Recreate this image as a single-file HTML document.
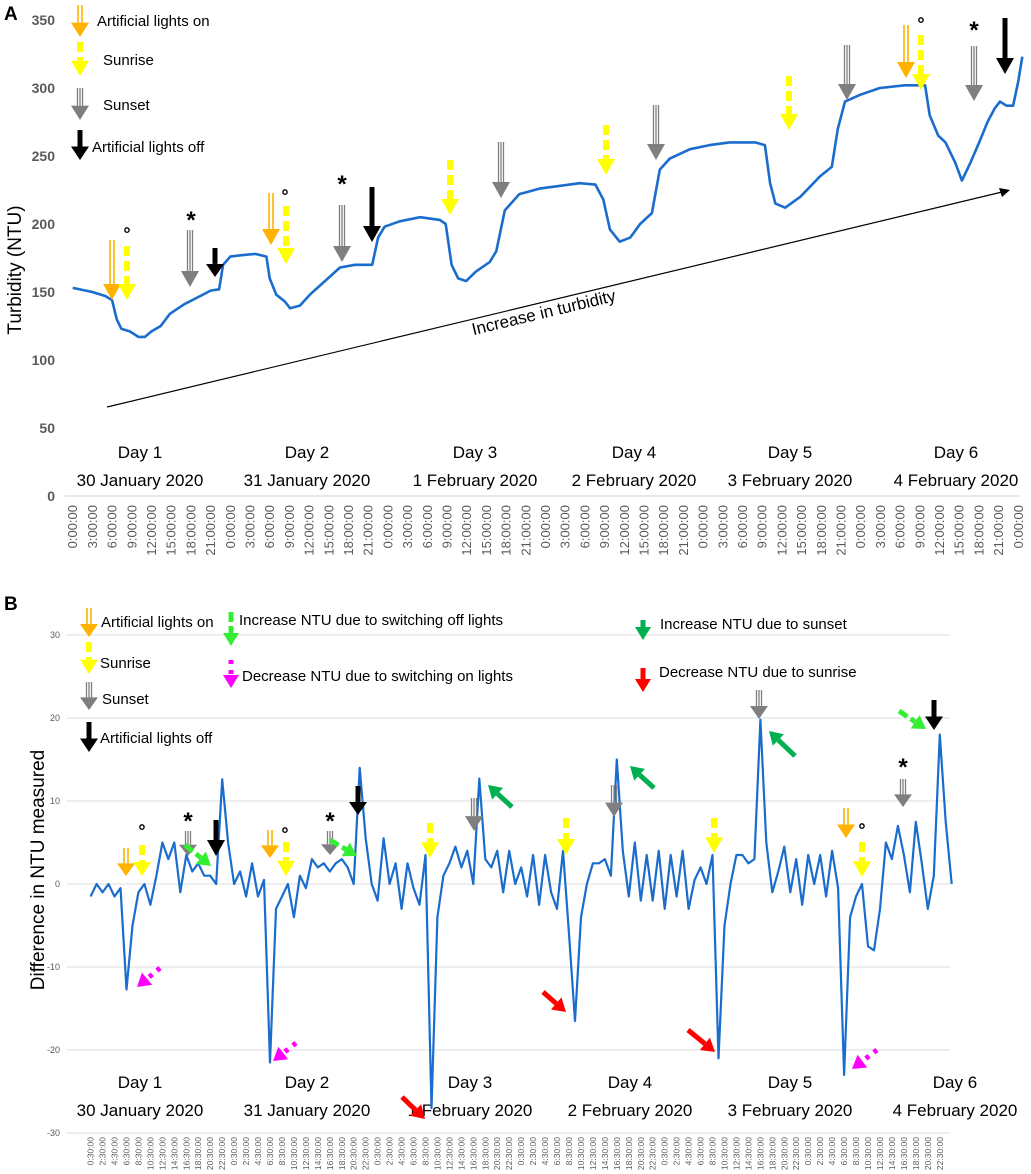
<!DOCTYPE html>
<html><head><meta charset="utf-8"><style>
html,body{margin:0;padding:0;background:#fff;}
svg{display:block;font-family:"Liberation Sans",sans-serif;}
</style></head><body>
<svg id="fig" width="1031" height="1174" viewBox="0 0 1031 1174">
<g id="gA"></g>
<g id="gB"></g>
</svg>
<script>
// ---------- Panel A data ----------
const hoursA = [0,3,5,6,6.7,7.4,8.7,10,11,12,13.4,14.8,17,19.4,21,22.3,22.9,24,25.5,27.8,29.5,30,31,32.3,33.1,34.6,36.1,38.4,40.7,43,45.6,46.5,47.5,49.8,52.9,55.9,56.8,57.7,58.7,59.9,61.4,63.5,64.5,65.8,68,71.1,74.1,77.2,79.6,80.8,81.8,83.3,84.9,86.4,88.2,89.4,90.9,94,97,100,103.9,105.4,106.2,107,108.5,110.8,113.8,115.6,116.5,117.6,119.9,122.9,126.7,129,129.8,130.5,131.8,132.9,134.4,135.4,136.7,138.2,139.3,140.4,141.2,142.2,143.2,144,144.6];
const turbA = [153,150,147,144,130,123,121,117,117,121,125,134,141,147,151,152,170,176,177,178,176,160,148,143,138,140,148,158,168,170,170,190,198,202,205,203,200,170,160,158,165,172,180,210,222,226,228,230,229,218,196,187,190,200,208,240,248,255,258,260,260,258,230,215,212,220,235,242,270,290,295,300,302,302,302,280,265,260,245,232,245,262,275,285,290,287,287,305,323,323];
const yTicksA = [0,50,100,150,200,250,300,350];
const dayNamesA = ["Day 1","Day 2","Day 3","Day 4","Day 5","Day 6"];
const dayDatesA = ["30 January 2020","31 January 2020","1 February 2020","2 February 2020","3 February 2020","4 February 2020"];
const dayXA = [140,307,475,634,790,956];
const xLabelsA = ["0:00:00","3:00:00","6:00:00","9:00:00","12:00:00","15:00:00","18:00:00","21:00:00"];

// ---------- Panel B data ----------
const diffB = [
-1.5,0,-1,0,-1.5,-0.5,-12.7,-5,-1,0,-2.5,1,5,3,5,-1,3.5,1.5,2.5,1,1,0,12.6,5,
0,1.5,-1.5,2.5,-1.5,0.5,-21.5,-3,-1.5,0,-4,1,-0.5,3,2,2.5,1.5,2.5,3,2,0,14,5.5,0,
-2,5.5,0,2.5,-3,2.5,-0.5,-2.5,3.5,-27,-4,1,2.5,4.5,2,4,0,12.7,3,2,4,-1,4,0,
2,-1.5,3.5,-2.5,3.5,-1,-3,4,-6,-16.5,-4,0,2.5,2.5,3,1,15,4,-1.5,5,-2,3.5,-2,4,
-3,3.5,-1.5,4,-3,0.5,2,0,3.5,-21,-5,0,3.5,3.5,2.5,3,19.8,5,-1,1.5,4.5,-1,3,-2.5,
3.5,0,3.5,-1.5,4,-0.5,-23,-4,-1.5,0,-7.5,-8,-3,5,3,7,3.5,-1,7.5,2.5,-3,1,18,7.5,0];
const yTicksB = [-30,-20,-10,0,10,20,30];
const dayXB = [140,307,470,630,790,955];
const xLabelsB = ["0:30:00","2:30:00","4:30:00","6:30:00","8:30:00","10:30:00","12:30:00","14:30:00","16:30:00","18:30:00","20:30:00","22:30:00"];

const NS="http://www.w3.org/2000/svg";
function mk(tag, attrs, parent){const e=document.createElementNS(NS,tag);for(const k in attrs)e.setAttribute(k,attrs[k]);parent.appendChild(e);return e;}
function txt(s,attrs,parent){const e=mk('text',attrs,parent);e.textContent=s;return e;}

const gA=document.getElementById('gA'), gB=document.getElementById('gB');
const xA=h=>72.7+h*6.567, yA=v=>496-v*1.36;
const xB=k=>90.6+k*5.98, yB=v=>884-v*8.3;

function vArrow(type,x,y1,y2,parent){
  const g=mk('g',{},parent);
  
  
  const col={on:'#ffb300',rise:'#ffff00',set:'#7f7f7f',off:'#000'}[type];
  const hh=Math.min(16,(y2-y1)*0.45), hw=9, sy=y2-hh;
  if(type==='on'){mk('line',{x1:x-2,y1:y1,x2:x-2,y2:sy,stroke:col,'stroke-width':1.6},g);mk('line',{x1:x+2,y1:y1,x2:x+2,y2:sy,stroke:col,'stroke-width':1.6},g);}
  else if(type==='set'){[-2.5,0,2.5].forEach(d=>mk('line',{x1:x+d,y1:y1,x2:x+d,y2:sy,stroke:col,'stroke-width':1.3},g));}
  else if(type==='rise'){mk('line',{x1:x,y1:y1,x2:x,y2:sy,stroke:col,'stroke-width':6,'stroke-dasharray':'10,5'},g);}
  else {mk('line',{x1:x,y1:y1,x2:x,y2:sy,stroke:col,'stroke-width':5},g);}
  mk('polygon',{points:`${x-hw},${sy} ${x+hw},${sy} ${x},${y2}`,fill:col},g);
  return g;
}
function dArrow(col,dash,x1,y1,x2,y2,parent,name){
  const g=mk('g',{},parent);
  
  
  const dx=x2-x1,dy=y2-y1,L=Math.hypot(dx,dy),ux=dx/L,uy=dy/L,hl=13,hw=8;
  const bx=x2-ux*hl,by=y2-uy*hl;
  const a={x1:x1,y1:y1,x2:bx,y2:by,stroke:col,'stroke-width':5};
  if(dash)a['stroke-dasharray']=dash;
  mk('line',a,g);
  mk('polygon',{points:`${bx-uy*hw},${by+ux*hw} ${bx+uy*hw},${by-ux*hw} ${x2},${y2}`,fill:col},g);
}
function mark(s,x,y,parent,name){const t=txt(s,{x:x,y:y,'font-size':s==='*'?24:18,'font-weight':'bold','text-anchor':'middle'},parent);}

// ================= PANEL A =================
let t=txt('A',{x:4,y:20,'font-size':19,'font-weight':'bold'},gA);

mk('line',{x1:65,y1:496,x2:1020,y2:496,stroke:'#d9d9d9','stroke-width':1.2},gA);
yTicksA.forEach(v=>{const e=txt(String(v),{x:55,y:yA(v)+5,'font-size':14,'font-weight':'bold',fill:'#595959','text-anchor':'end'},gA);
});
t=txt('Turbidity (NTU)',{transform:'translate(21,270) rotate(-90)','font-size':19,'text-anchor':'middle'},gA);

for(let i=0;i<=48;i++){const s=xLabelsA[i%8];const e=txt(s,{transform:`translate(${xA(i*3)+4.5},505) rotate(-90)`,'font-size':13,fill:'#595959','text-anchor':'end'},gA);
}
dayNamesA.forEach((d,i)=>{let e=txt(d,{x:dayXA[i],y:458,'font-size':17,'text-anchor':'middle'},gA);
e=txt(dayDatesA[i],{x:dayXA[i],y:486,'font-size':17,'text-anchor':'middle'},gA);});
let tr=mk('g',{},gA);
mk('line',{x1:107,y1:407,x2:1002,y2:192,stroke:'#000','stroke-width':1.2},tr);
mk('polygon',{points:'1010,190 999,188 1002,197',fill:'#000'},tr);
t=txt('Increase in turbidity',{transform:'translate(545,318) rotate(-13.5)','font-size':17,'text-anchor':'middle'},gA);

let dA=hoursA.map((h,i)=>(i?'L':'M')+xA(h).toFixed(1)+','+yA(turbA[i]).toFixed(1)).join(' ');
let pA=mk('path',{d:dA,fill:'none',stroke:'#1a6dcc','stroke-width':2.6,'stroke-linejoin':'round'},gA);

vArrow('on',80,5,37,gA);vArrow('rise',80,42,76,gA);vArrow('set',80,88,120,gA);vArrow('off',80,130,160,gA);
[['Artificial lights on',97,26],['Sunrise',103,65],['Sunset',103,110],['Artificial lights off',92,152]].forEach(a=>{const e=txt(a[0],{x:a[1],y:a[2],'font-size':15},gA);});
vArrow('on',112,240,300,gA);mark('°',127,240,gA,'degree-mark');vArrow('rise',127,246,300,gA);mark('*',191,228,gA,'star-mark');vArrow('set',190,230,287,gA);vArrow('off',215,248,277,gA);
vArrow('on',271,193,245,gA);mark('°',285,202,gA,'degree-mark');vArrow('rise',286,206,264,gA);mark('*',342,192,gA,'star-mark');vArrow('set',342,205,262,gA);vArrow('off',372,187,242,gA);
vArrow('rise',450,160,215,gA);vArrow('set',501,142,198,gA);
vArrow('rise',606,125,175,gA);vArrow('set',656,105,160,gA);
vArrow('rise',789,76,130,gA);vArrow('set',847,45,100,gA);
vArrow('on',906,25,78,gA);mark('°',921,30,gA,'degree-mark');vArrow('rise',921,35,90,gA);mark('*',974,38,gA,'star-mark');vArrow('set',974,46,101,gA);vArrow('off',1005,18,74,gA);

// ================= PANEL B =================
t=txt('B',{x:4,y:610,'font-size':19,'font-weight':'bold'},gB);

yTicksB.forEach(v=>{const l=mk('line',{x1:67,y1:yB(v),x2:950,y2:yB(v),stroke:'#e3e3e3','stroke-width':1.2},gB);

const e=txt(String(v),{x:60,y:yB(v)+3,'font-size':9,fill:'#595959','text-anchor':'end'},gB);
});
t=txt('Difference in NTU measured',{transform:'translate(44,870) rotate(-90)','font-size':19,'text-anchor':'middle'},gB);

for(let i=0;i<72;i++){const e=txt(xLabelsB[i%12],{transform:`translate(${xB(i*2)+3},1137) rotate(-90)`,'font-size':8.5,fill:'#595959','text-anchor':'end'},gB);
}
dayNamesA.forEach((d,i)=>{let e=txt(d,{x:dayXB[i],y:1088,'font-size':17,'text-anchor':'middle'},gB);
e=txt(dayDatesA[i],{x:dayXB[i],y:1116,'font-size':17,'text-anchor':'middle'},gB);});
let dB=diffB.map((v,k)=>(k?'L':'M')+xB(k).toFixed(1)+','+yB(v).toFixed(1)).join(' ');
let pB=mk('path',{d:dB,fill:'none',stroke:'#1a6dcc','stroke-width':2.2,'stroke-linejoin':'round'},gB);

vArrow('on',89,608,637,gB);vArrow('rise',89,642,674,gB);vArrow('set',89,682,710,gB);vArrow('off',89,722,752,gB);
dArrow('#33ee33','10,4',231,612,231,646,gB,'legend-lightgreen-arrow');
dArrow('#ff00ff','4,6',231,660,231,688,gB,'legend-magenta-arrow');
dArrow('#00b050',null,643,620,643,640,gB,'legend-green-arrow');
dArrow('#ff0000',null,643,668,643,692,gB,'legend-red-arrow');
[['Artificial lights on',101,627],['Sunrise',100,668],['Sunset',102,704],['Artificial lights off',100,743],
['Increase NTU due to switching off lights',239,625],['Decrease NTU due to switching on lights',242,681],
['Increase NTU due to sunset',660,629],['Decrease NTU due to sunrise',659,677]].forEach(a=>{const e=txt(a[0],{x:a[1],y:a[2],'font-size':15},gB);});
vArrow('on',126,848,876,gB);mark('°',142,837,gB,'degree-mark');vArrow('rise',142,845,876,gB);mark('*',188,829,gB,'star-mark');vArrow('set',188,831,856,gB);vArrow('off',216,820,856,gB);
vArrow('on',270,830,858,gB);mark('°',285,840,gB,'degree-mark');vArrow('rise',286,842,876,gB);mark('*',330,829,gB,'star-mark');vArrow('set',330,831,855,gB);vArrow('off',358,786,815,gB);
vArrow('rise',430,823,858,gB);vArrow('set',474,798,831,gB);
vArrow('rise',566,818,855,gB);vArrow('set',614,785,817,gB);
vArrow('rise',714,818,853,gB);vArrow('set',759,690,719,gB);
vArrow('on',846,808,838,gB);mark('°',862,836,gB,'degree-mark');vArrow('rise',862,842,877,gB);mark('*',903,775,gB,'star-mark');vArrow('set',903,779,807,gB);vArrow('off',934,700,730,gB);
dArrow('#ff00ff','4,6',160,968,137,987,gB,'magenta-arrow');
dArrow('#ff00ff','4,6',296,1043,273,1061,gB,'magenta-arrow');
dArrow('#ff00ff','4,6',877,1050,852,1069,gB,'magenta-arrow');
dArrow('#33ee33','10,4',185,845,211,866,gB,'lightgreen-arrow');
dArrow('#33ee33','10,4',330,840,357,856,gB,'lightgreen-arrow');
dArrow('#33ee33','10,4',899,711,926,729,gB,'lightgreen-arrow');
dArrow('#00b050',null,512,807,488,785,gB,'green-arrow');
dArrow('#00b050',null,654,788,630,766,gB,'green-arrow');
dArrow('#00b050',null,795,756,769,731,gB,'green-arrow');
dArrow('#ff0000',null,402,1097,425,1119,gB,'red-arrow');
dArrow('#ff0000',null,543,992,566,1012,gB,'red-arrow');
dArrow('#ff0000',null,688,1030,715,1052,gB,'red-arrow');
</script>
</body></html>
